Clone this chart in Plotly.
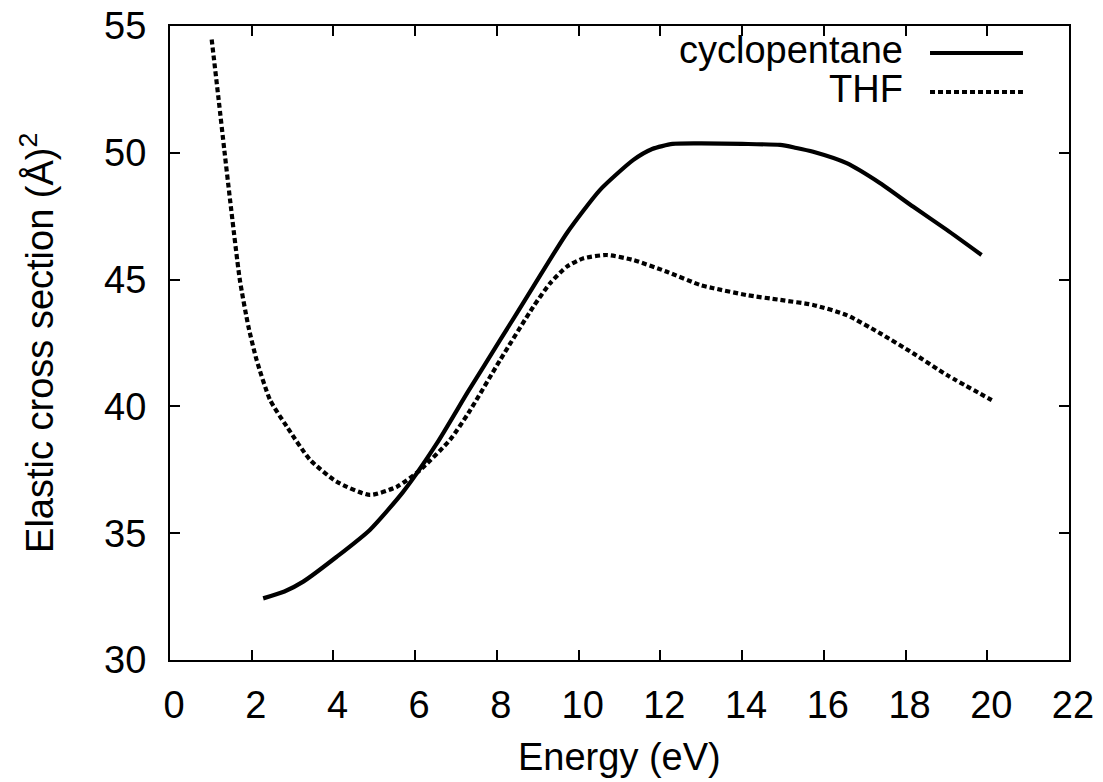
import plotly.graph_objects as go

# Data
cyc_x = [2.28, 2.8, 3.26, 4.08, 4.89, 5.71, 6.53, 7.3, 8.08, 8.89, 9.71, 10.52,
         11.34, 11.8, 12.3, 13.0, 14.0, 14.93, 15.3, 15.74, 16.56, 17.38, 18.19,
         19.01, 19.86]
cyc_y = [32.43, 32.7, 33.09, 34.07, 35.13, 36.64, 38.54, 40.6, 42.62, 44.72, 46.83,
         48.53, 49.72, 50.15, 50.35, 50.37, 50.35, 50.31, 50.2, 50.04, 49.59, 48.8,
         47.87, 46.96, 45.97]

thf_x = [1.02, 1.19, 1.33, 1.47, 1.71, 1.92, 2.12, 2.45, 2.86, 3.43, 4.08, 4.89,
         5.55, 6.12, 6.85, 7.3, 8.08, 8.89, 9.3, 9.71, 10.12, 10.69, 11.34, 12.16,
         12.97, 13.3, 14.11, 14.93, 15.74, 16.56, 17.38, 18.19, 19.01, 20.11]
thf_y = [54.47, 52.1, 50.1, 48.14, 44.98, 43.14, 41.83, 40.25, 39.2, 37.89, 37.03,
         36.51, 36.83, 37.49, 38.68, 39.73, 41.83, 43.93, 44.85, 45.51, 45.84, 45.97,
         45.77, 45.31, 44.79, 44.66, 44.39, 44.2, 44.0, 43.6, 42.88, 42.09, 41.24,
         40.25]

series_names = ["cyclopentane", "THF"]
x_ticks = list(range(0, 23, 2))
y_ticks = list(range(30, 56, 5))
x_title = "Energy (eV)"
y_title = "Elastic cross section (Å)<sup>2</sup>"

FONT = "Liberation Sans, Arial, Helvetica, sans-serif"
FS = 38
SOLID_W = 4.2
DASH = "5px,3px"

fig = go.Figure()
fig.add_trace(go.Scatter(x=cyc_x, y=cyc_y, mode="lines", name=series_names[0],
                         line=dict(color="black", width=SOLID_W, shape="spline", smoothing=0.6)))
fig.add_trace(go.Scatter(x=thf_x, y=thf_y, mode="lines", name=series_names[1],
                         line=dict(color="black", width=SOLID_W, dash=DASH, shape="spline", smoothing=0.6)))

# gnuplot-style legend: text right-aligned, sample line to the right
legend_rows = [(series_names[0], 0.9574, "solid"), (series_names[1], 0.8959, DASH)]
for name, yy, dash in legend_rows:
    fig.add_annotation(xref="paper", yref="paper", x=0.8175, y=yy + 0.004, text=name,
                       showarrow=False, xanchor="right", yanchor="middle",
                       font=dict(family=FONT, size=FS, color="black"))
    fig.add_shape(type="line", xref="paper", yref="paper", x0=0.8454, x1=0.9488,
                  y0=yy, y1=yy, line=dict(color="black", width=SOLID_W, dash=dash))

# axis titles
fig.add_annotation(xref="paper", yref="paper", x=0.5, y=-0.153, text=x_title,
                   showarrow=False, xanchor="center", yanchor="middle",
                   font=dict(family=FONT, size=FS, color="black"))
fig.add_annotation(xref="paper", yref="paper", x=-0.148, y=0.5, text=y_title,
                   showarrow=False, xanchor="center", yanchor="middle", textangle=-90,
                   font=dict(family=FONT, size=FS, color="black"))

axis_common = dict(showline=True, linecolor="black", linewidth=2, mirror="allticks",
                   ticks="inside", ticklen=10, tickwidth=1.5, tickcolor="black",
                   showgrid=False, zeroline=False, automargin=False,
                   tickfont=dict(family=FONT, size=FS, color="black"))

fig.update_xaxes(range=[0, 22], tickvals=x_ticks, ticklabelstandoff=10,
                 ticklabelshift=4, **axis_common)
fig.update_yaxes(range=[30, 55], tickvals=y_ticks, ticklabelstandoff=14, **axis_common)

fig.update_layout(width=1103, height=782, showlegend=False,
                  plot_bgcolor="white", paper_bgcolor="white",
                  margin=dict(l=170, r=34, t=26, b=122),
                  font=dict(family=FONT, size=FS, color="black"))

fig.write_html("out.html", config={"displayModeBar": False},
               post_script="document.body.style.margin='0';document.body.style.overflow='hidden';")
